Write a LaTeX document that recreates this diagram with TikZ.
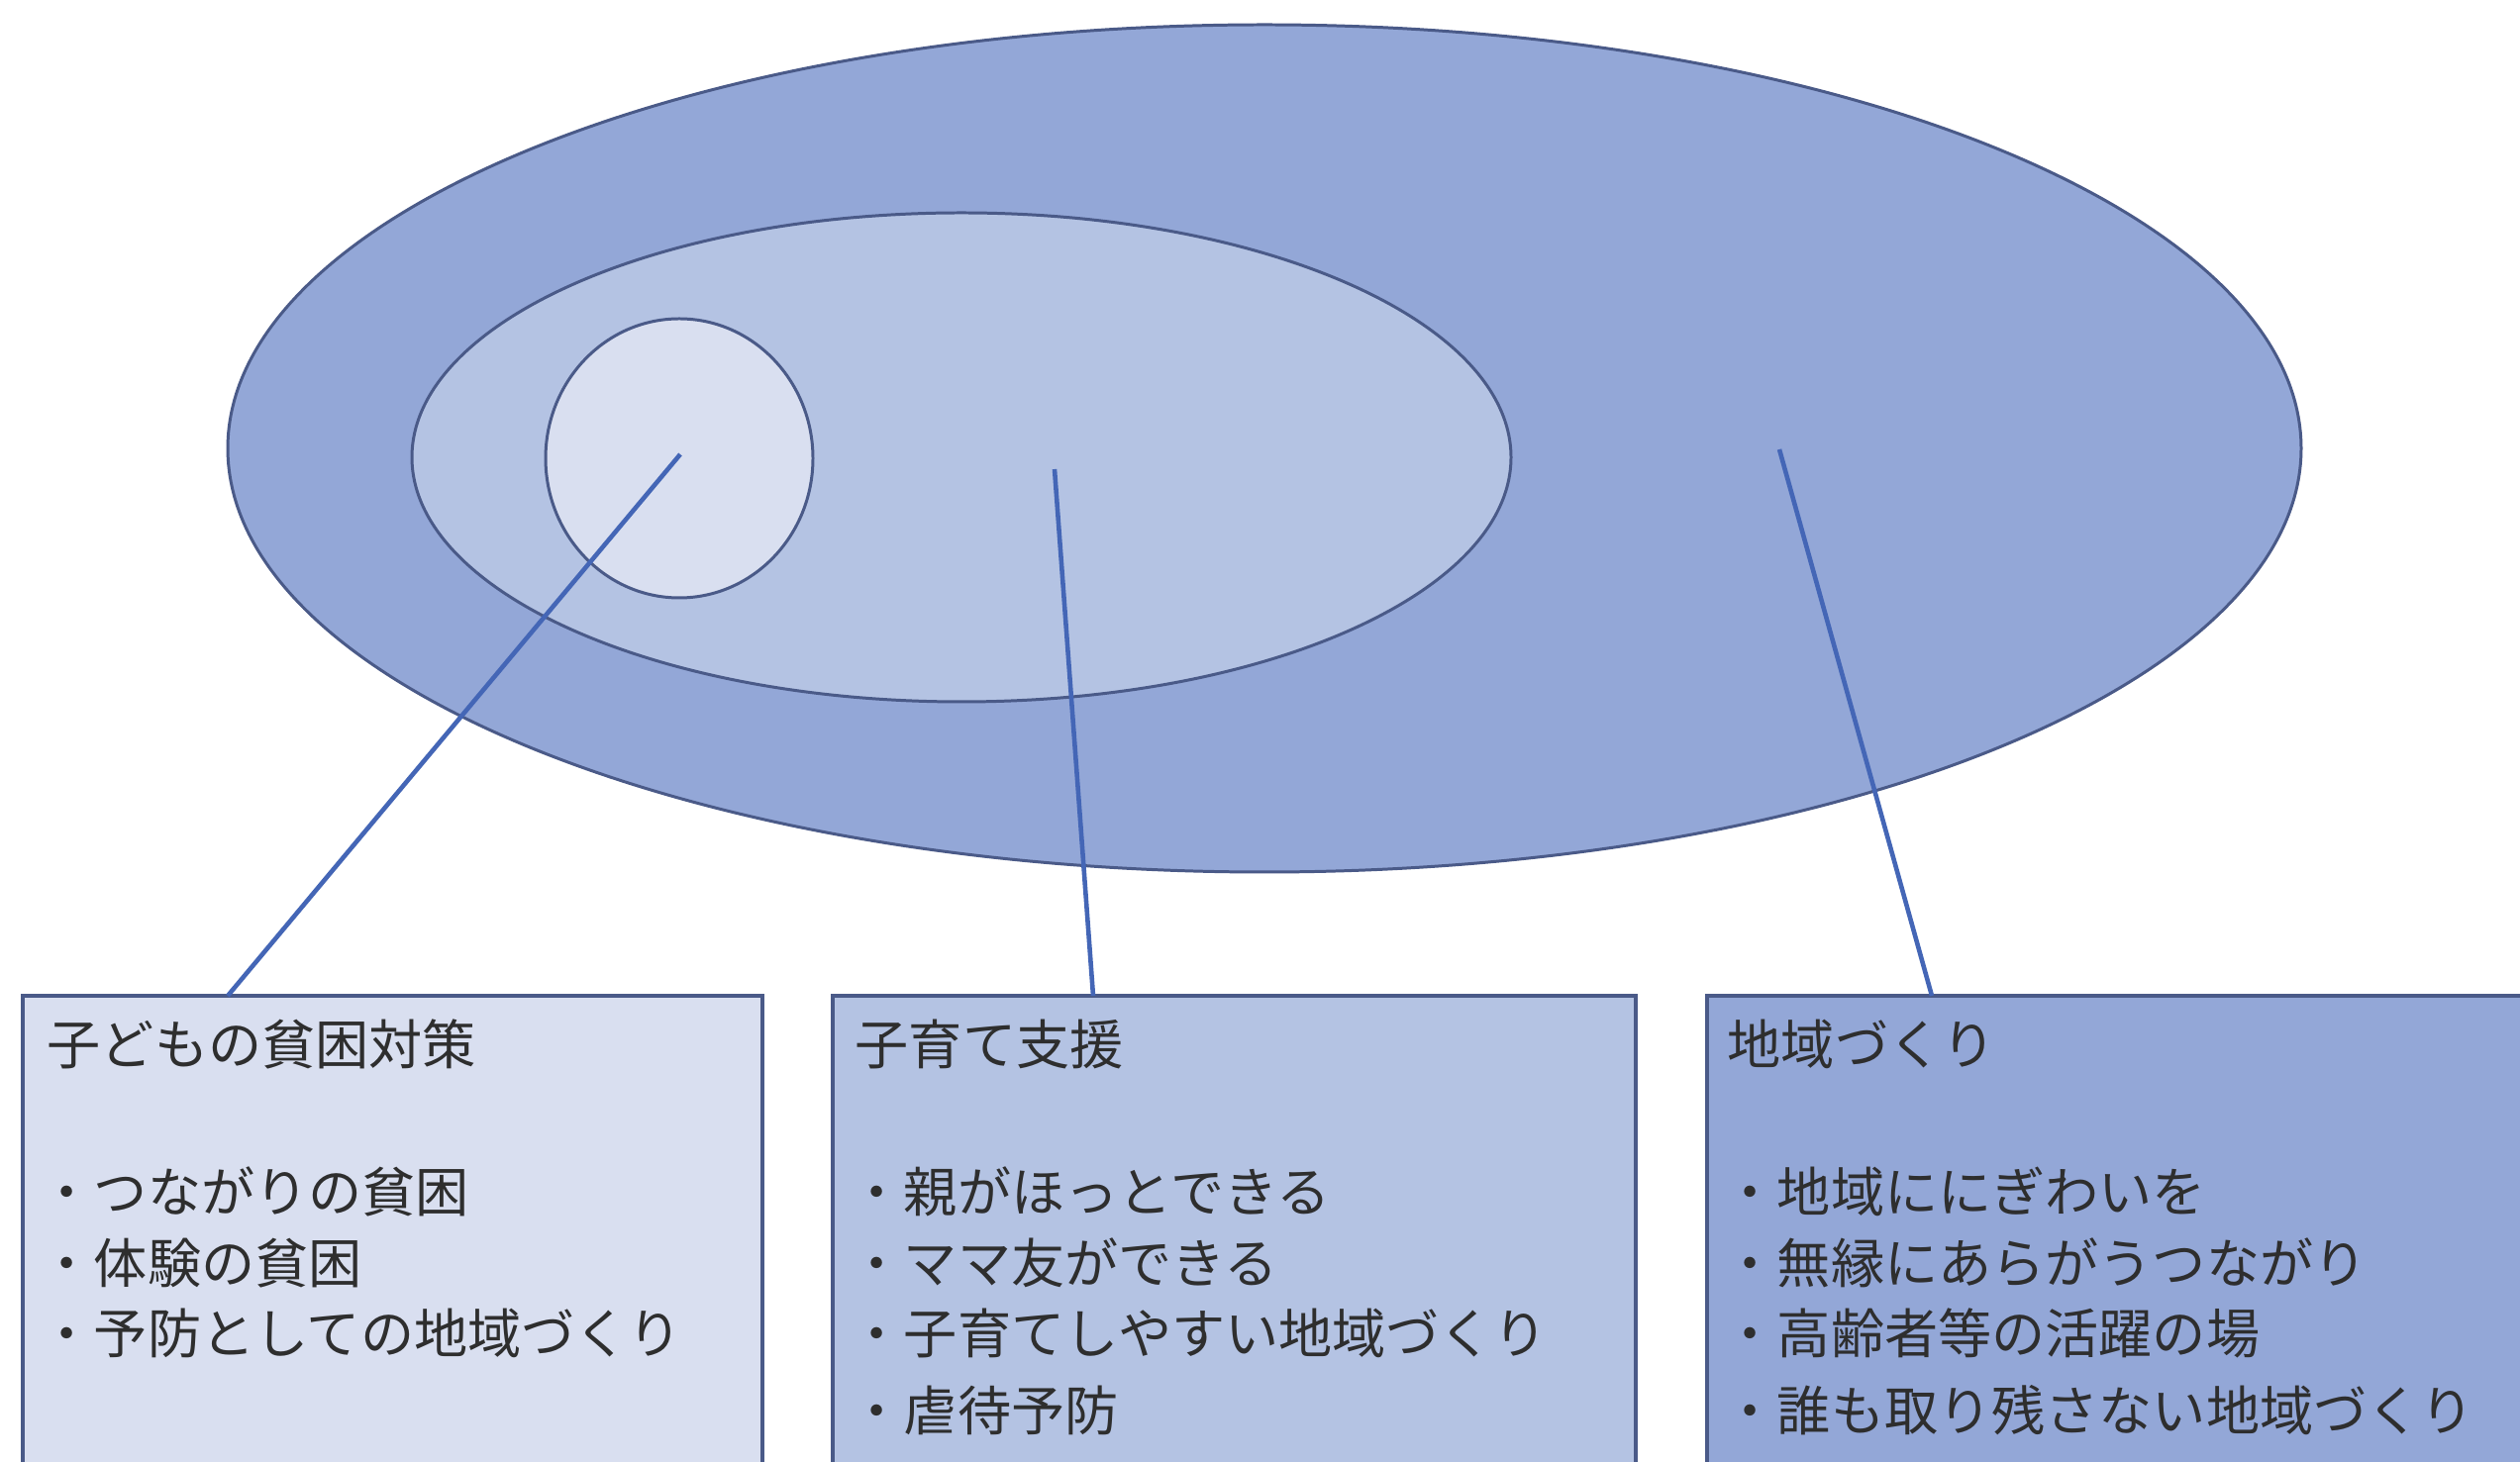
\documentclass[tikz,border=0pt]{standalone}
\usepackage{fontspec}
\setmainfont{Noto Sans CJK JP}
\definecolor{outerfill}{HTML}{93A7D7}
\definecolor{midfill}{HTML}{B4C3E3}
\definecolor{innerfill}{HTML}{D9DFF0}
\definecolor{edgecol}{HTML}{4A5A88}
\definecolor{linkcol}{HTML}{4466B6}
\definecolor{txtcol}{HTML}{2E2E2E}
\tikzset{
  ring/.style={draw=edgecol, line width=0.85pt},
  infobox/.style={draw=edgecol, line width=1.1pt},
  link/.style={draw=linkcol, line width=1.3pt},
  boxtext/.style={anchor=west, inner sep=0pt, text=txtcol, font=\fontsize{15.4}{18}\selectfont}
}
\begin{document}
\begin{tikzpicture}[x=0.01cm, y=-0.01cm]
\useasboundingbox (0,0) rectangle (2545,1477);
\clip (0,0) rectangle (2545,1477);
\fill[white] (0,0) rectangle (2545,1477);
% ellipses
\draw[ring, fill=outerfill] (1277,453) ellipse [x radius=1047, y radius=428];
\draw[ring, fill=midfill] (971,462) ellipse [x radius=555, y radius=247];
\draw[ring, fill=innerfill] (686,463) ellipse [x radius=135, y radius=141];
% anchor coordinates
\coordinate (p1) at (687,459);
\coordinate (p2) at (1065,474);
\coordinate (p3) at (1797,454);
% boxes
\draw[infobox, fill=innerfill] (23,1006) rectangle (770,1520);
\draw[infobox, fill=midfill] (841,1006) rectangle (1652,1520);
\draw[infobox, fill=outerfill] (1724,1006) rectangle (2600,1520);
\coordinate (b1) at (230,1006);
\coordinate (b2) at (1104,1006);
\coordinate (b3) at (1951,1006);
% connectors
\draw[link] (p1) -- (b1);
\draw[link] (p2) -- (b2);
\draw[link] (p3) -- (b3);
% box 1 text
\node[boxtext] (t1) at (47,1055) {子どもの貧困対策};
\node[boxtext] (t1a) at (40,1204) {・つながりの貧困};
\node[boxtext] (t1b) at (40,1276) {・体験の貧困};
\node[boxtext] (t1c) at (40,1347) {・予防としての地域づくり};
% box 2 text
\node[boxtext] (t2) at (863,1055) {子育て支援};
\node[boxtext] (t2a) at (858,1204) {・親がほっとできる};
\node[boxtext] (t2b) at (858,1276) {・ママ友ができる};
\node[boxtext] (t2c) at (858,1347) {・子育てしやすい地域づくり};
\node[boxtext] (t2d) at (858,1425) {・虐待予防};
% box 3 text
\node[boxtext] (t3) at (1744,1055) {地域づくり};
\node[boxtext] (t3a) at (1740,1204) {・地域ににぎわいを};
\node[boxtext] (t3b) at (1740,1276) {・無縁にあらがうつながり};
\node[boxtext] (t3c) at (1740,1347) {・高齢者等の活躍の場};
\node[boxtext] (t3d) at (1740,1425) {・誰も取り残さない地域づくり};
\end{tikzpicture}
\end{document}
